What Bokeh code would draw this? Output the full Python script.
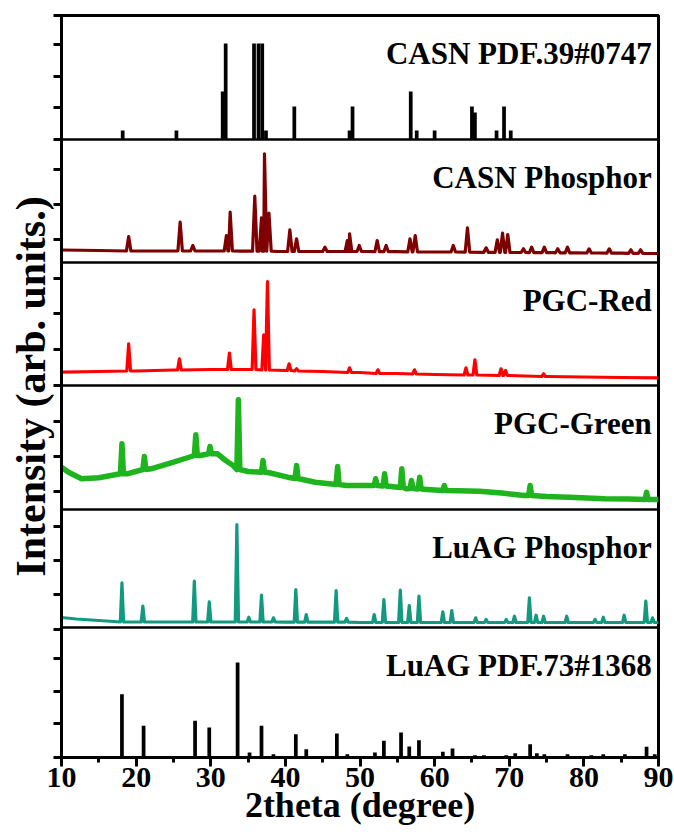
from bokeh.plotting import figure
from bokeh.models import (Range1d, FixedTicker, SingleIntervalTicker, Span, Label,
                          CustomLabelingPolicy)
from bokeh.embed import file_html
from bokeh.resources import INLINE

# ---------------- data (2theta in degree, intensity in arb. units) ----------------
# CASN PDF.39#0747 reference pattern (sticks)
casn_pdf_pos = [18.2, 25.4, 31.6, 32.0, 35.8, 36.4, 36.9, 37.4, 41.2, 48.6, 49.0,
                56.8, 57.6, 60.0, 65.0, 65.4, 68.3, 69.3, 70.2]
casn_pdf_int = [9, 9, 48, 96, 96, 96, 96, 9, 33, 9, 33,
                48, 9, 9, 33, 27, 9, 33, 9]

# CASN Phosphor measured pattern: background points + peaks (position, local base, top)
casn_bg_x = [10, 15, 20, 24, 30, 34, 39, 44, 47, 51, 55, 60, 63, 67, 71, 76, 79, 82, 85, 88, 90]
casn_bg_y = [12.5, 12, 11.5, 11.5, 11.5, 11.3, 11, 11, 11, 11, 10.8, 10.5, 10.5, 10.2,
             10, 9.8, 9.6, 9.5, 9.3, 9.1, 9]
casn_pk_x = [19.0, 25.9, 27.6, 32.1, 32.6, 35.9, 36.8, 37.2, 37.8, 40.6, 41.5, 45.3,
             48.3, 48.6, 49.9, 52.3, 53.5, 56.7, 57.4, 62.5, 64.4, 66.9, 68.4, 69.1,
             69.8, 71.9, 73.0, 74.7, 76.5, 77.8, 80.7, 83.4, 86.3, 87.6]
casn_pk_base = [11.5, 11.5, 11.5, 11.5, 11.5, 11.3, 11.3, 11.3, 11.3, 11, 11, 11,
                11, 11, 11, 10.8, 10.8, 10.6, 10.6, 10.5, 10.4, 10.2, 10.1, 10.1,
                10, 10, 9.9, 9.8, 9.7, 9.6, 9.5, 9.4, 9.2, 9.1]
casn_pk_top = [26, 40.3, 17, 27, 50.3, 66.3, 44.7, 108.7, 49.3, 32.7, 23.7, 15.3,
               22, 28.7, 17, 22, 17, 23.7, 27, 17, 34.7, 14.7, 22.7, 29.3,
               28, 13.7, 15.3, 15.3, 13.7, 15.3, 13.7, 13.7, 12.7, 12.7]

# PGC-Red measured pattern
red_bg_x = [10, 15, 20, 25, 30, 35, 40, 45, 50, 55, 60, 65, 70, 75, 80, 85, 90]
red_bg_y = [13.3, 14, 14.5, 15.5, 16, 16, 15, 14, 13, 12, 11, 10.5, 10, 9, 8.5, 8, 7.7]
red_pk_x = [19.0, 25.8, 32.5, 35.8, 37.1, 37.6, 40.5, 41.5, 48.6, 52.4, 57.3,
            64.2, 65.4, 68.9, 69.5, 74.6]
red_pk_base = [14.5, 15.5, 16, 16, 15.5, 15.5, 15, 14.5, 13, 12, 11.5,
               10.5, 10.5, 10, 10, 9]
red_pk_top = [41.7, 26.7, 32.3, 75.7, 50.7, 104, 21.7, 16.7, 17.7, 15.7, 15.7,
              17.7, 25.7, 16.7, 15, 11.7]

# PGC-Green measured pattern (glass hump + LuAG peaks)
green_bg_x = [10, 11, 12.7, 15, 18.8, 22, 25, 27, 28.6, 30.9, 32, 33, 35, 37.7, 40.3,
              44, 48.2, 51, 56.2, 59, 61.6, 66, 69, 72, 75, 78, 82.8, 86, 89.7, 90]
green_bg_y = [42.3, 37, 30.7, 31.7, 35.7, 40.7, 47.3, 52, 54, 55.7, 49, 44, 38, 37,
              32.3, 27.3, 24, 24, 20.7, 20, 19, 18.3, 16.5, 14, 13, 12.3, 10.7, 10.5, 10, 10]
green_pk_x = [18.1, 21.1, 28.0, 29.9, 33.7, 37.0, 41.5, 47.0, 52.1, 53.3, 55.6, 56.9,
              58.0, 61.3, 72.8, 88.4]
green_pk_base = [35.7, 40, 54, 55.7, 40, 37.3, 31, 25, 24, 23.5, 22, 21,
                 20.5, 19, 14, 10]
green_pk_top = [65.7, 53, 74.7, 63, 109.7, 49, 44, 43, 30.7, 35.7, 40.7, 29,
                32.3, 24, 24, 17.3]

# LuAG Phosphor measured pattern
luag_bg_x = [10, 12, 15, 17, 20, 25, 30, 40, 50, 60, 70, 80, 90]
luag_bg_y = [10, 8.5, 7, 6, 5.5, 5.5, 5.5, 5.3, 5, 5, 5, 5, 5]
luag_pk_x = [18.1, 20.9, 27.8, 29.8, 33.5, 35.1, 36.8, 38.4, 41.4, 42.8, 46.8, 48.2,
             51.9, 53.2, 55.4, 56.6, 57.9, 61.1, 62.3, 65.5, 66.9, 69.6, 70.7, 72.7,
             73.6, 74.6, 77.7, 81.5, 82.6, 85.4, 88.3, 89.2]
luag_pk_base = [5.5] * 8 + [5.3] * 4 + [5] * 20
luag_pk_top = [44.7, 21.3, 46.3, 25.7, 103, 10.3, 32.3, 9.7, 38, 13, 37, 9,
               13, 28, 37.3, 22, 31.3, 15.7, 17, 9.7, 8, 8, 11.3, 29.7,
               12.3, 11.3, 11.3, 8, 10.3, 12.3, 26.3, 9.7]

# LuAG PDF.73#1368 reference pattern (sticks)
luag_pdf_pos = [18.1, 21.0, 27.9, 29.8, 33.6, 35.2, 36.8, 38.4, 41.4, 42.8, 46.9, 48.3,
                52.0, 53.2, 55.5, 56.6, 57.9, 61.1, 62.4, 65.4, 66.6, 69.6, 70.8, 72.8,
                73.7, 74.7, 77.8, 81.0, 82.6, 85.5, 88.4, 89.5]
luag_pdf_int = [63.3, 31.7, 36.7, 30, 95, 5, 31.7, 3.3, 23.3, 8.3, 24, 3.3,
                5, 16.7, 25, 11, 17.3, 5.7, 9, 2.3, 2.3, 2.3, 4.3, 13.3,
                4.3, 3.3, 3.3, 2.3, 3.3, 3.3, 10.7, 3.3]

panel_names = ["CASN PDF.39#0747", "CASN Phosphor", "PGC-Red", "PGC-Green",
               "LuAG Phosphor", "LuAG PDF.73#1368"]

# ---------------- layout / style ----------------
FONT = "Liberation Serif"
panel_bottom = [618, 495, 372, 248, 130, 0]   # stacking offsets (y units)
panel_top = [742, 618, 495, 372, 248, 130]
y_ticks = [742, 713, 681, 650, 618, 588, 553, 518, 479, 444, 408, 372, 336, 301,
           266, 231, 197, 163, 128, 99, 66, 34, 0]


def build_curve(bg_x, bg_y, pk_x, pk_base, pk_top, w):
    pts = []
    for x, y in zip(bg_x, bg_y):
        if all(abs(x - px) > w for px in pk_x):
            pts.append((x, y))
    for px, b, t in zip(pk_x, pk_base, pk_top):
        pts += [(px - w, b), (px, t), (px + w, b)]
    pts.sort()
    return [a for a, _ in pts], [b for _, b in pts]


p = figure(width=674, height=830, output_backend="svg", toolbar_location=None,
           x_range=Range1d(10, 90), y_range=Range1d(0, 742),
           min_border_left=61, min_border_right=16, min_border_top=15,
           min_border_bottom=73, background_fill_color="white",
           border_fill_color="white")
p.grid.visible = False
p.outline_line_color = "black"
p.outline_line_width = 3
p.outline_line_alpha = 1

# separators between panels
for b in panel_bottom[:-1]:
    p.add_layout(Span(location=b, dimension="width", line_color="black", line_width=2.5))

# stick patterns
p.vbar(x=casn_pdf_pos, width=0.5, bottom=panel_bottom[0],
       top=[panel_bottom[0] + v for v in casn_pdf_int], fill_color="black", line_color=None)
p.vbar(x=luag_pdf_pos, width=0.5, bottom=panel_bottom[5],
       top=[panel_bottom[5] + v for v in luag_pdf_int], fill_color="black", line_color=None)

# measured patterns
curves = [
    (casn_bg_x, casn_bg_y, casn_pk_x, casn_pk_base, casn_pk_top, 0.3, 1, "#7f0000", 3.2),
    (red_bg_x, red_bg_y, red_pk_x, red_pk_base, red_pk_top, 0.25, 2, "#ff0000", 3.2),
    (green_bg_x, green_bg_y, green_pk_x, green_pk_base, green_pk_top, 0.2, 3, "#1db41d", 5.5),
    (luag_bg_x, luag_bg_y, luag_pk_x, luag_pk_base, luag_pk_top, 0.22, 4, "#129a80", 3.2),
]
for bx, by, px, pb, pt, w, idx, col, lw in curves:
    xs, ys = build_curve(bx, by, px, pb, pt, w)
    p.line(xs, [panel_bottom[idx] + v for v in ys], line_color=col, line_width=lw,
           line_join="round")

# panel labels
for name, top in zip(panel_names, panel_top):
    p.add_layout(Label(x=89.1, y=top, y_offset=-38, text=name, text_align="right",
                       text_baseline="middle", text_font=FONT, text_font_style="bold",
                       text_font_size="31px", text_color="black"))

# axes
xa = p.xaxis[0]
xa.ticker = SingleIntervalTicker(interval=10, num_minor_ticks=2)
xa.axis_line_width = 3
xa.major_tick_line_width = 3
xa.minor_tick_line_width = 3
xa.major_tick_out = 9
xa.major_tick_in = 0
xa.minor_tick_out = 5
xa.minor_tick_in = 0
xa.major_label_standoff = 1
xa.major_label_text_font = FONT
xa.major_label_text_font_style = "bold"
xa.major_label_text_font_size = "30px"
xa.major_label_text_color = "black"
xa.axis_label = "2theta (degree)"
xa.axis_label_text_font = FONT
xa.axis_label_text_font_style = "bold"
xa.axis_label_text_font_size = "36px"
xa.axis_label_text_color = "black"
xa.axis_label_standoff = -5

ya = p.yaxis[0]
ya.ticker = FixedTicker(ticks=y_ticks, minor_ticks=[])
ya.axis_line_width = 3
ya.major_tick_line_width = 3
ya.major_tick_out = 8
ya.major_tick_in = 0
ya.minor_tick_out = 0
ya.major_label_text_font_size = "0px"
ya.major_label_standoff = 0
ya.major_label_policy = CustomLabelingPolicy(code="""
    for (const i of indices) { indices.unset(i) }
    return indices
""")
ya.axis_label = "Intensity (arb. units.)"
ya.axis_label_text_font = FONT
ya.axis_label_text_font_style = "bold"
ya.axis_label_text_font_size = "42px"
ya.axis_label_text_color = "black"
ya.axis_label_standoff = 0

open("out.html", "w").write(file_html(p, INLINE))
